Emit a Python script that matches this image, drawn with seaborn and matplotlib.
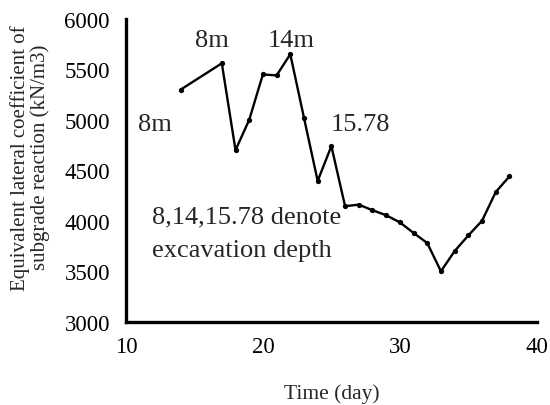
import matplotlib
matplotlib.use("Agg")
import matplotlib.pyplot as plt
import seaborn as sns
import pandas as pd

days = [14, 17, 18, 19, 20, 21, 22, 23, 24, 25, 26, 27, 28, 29, 30, 31, 32, 33, 34, 35, 36, 37, 38]
k_values = [5300, 5560, 4700, 5000, 5450, 5440, 5650, 5020, 4395, 4740, 4145, 4160, 4105, 4055, 3985, 3880, 3780, 3500, 3700, 3855, 4000, 4285, 4440]
x_ticks = [10, 20, 30, 40]
y_ticks = [3000, 3500, 4000, 4500, 5000, 5500, 6000]

df = pd.DataFrame({"Time (day)": days, "K": k_values})

sns.set_style("white")
plt.rcParams['font.family'] = ['Liberation Serif', 'DejaVu Serif']

fig = plt.figure(figsize=(5.5, 4.06), dpi=100)
ax = fig.add_axes([0.229, 0.205, 0.747, 0.746])

sns.lineplot(data=df, x="Time (day)", y="K", ax=ax, color="black", linewidth=1.7,
             marker="o", markersize=3.8, markeredgewidth=0, markerfacecolor="black")

ax.set_xlim(10, 40)
ax.set_ylim(3000, 6000)
ax.set_xticks(x_ticks)
ax.set_yticks(y_ticks)
ax.tick_params(axis="both", direction="in", length=5, width=2, labelsize=16.5, colors="black")
ax.tick_params(axis="y", pad=11.5)
ax.tick_params(axis="x", pad=10)

for s in ["top", "right"]:
    ax.spines[s].set_visible(False)
for s in ["left", "bottom"]:
    ax.spines[s].set_linewidth(2.4)
    ax.spines[s].set_color("black")

ax.set_xlabel("Time (day)", fontsize=15.5, labelpad=19)
ax.set_ylabel("Equivalent lateral coefficient of\nsubgrade reaction (kN/m3)", fontsize=15, linespacing=1.0)
ax.yaxis.set_label_coords(-0.185, 0.545)

fs = 19
ax.text(16.3, 5790, "8m", fontsize=fs, ha="center", va="center")
ax.text(22.1, 5790, "14m", fontsize=fs, ha="center", va="center")
ax.text(12.1, 4955, "8m", fontsize=fs, ha="center", va="center")
ax.text(27.1, 4960, "15.78", fontsize=fs, ha="center", va="center")
ax.text(11.9, 4045, "8,14,15.78 denote", fontsize=fs, ha="left", va="center")
ax.text(11.9, 3714, "excavation depth", fontsize=fs, ha="left", va="center")

fig.savefig("out.png", dpi=100)
